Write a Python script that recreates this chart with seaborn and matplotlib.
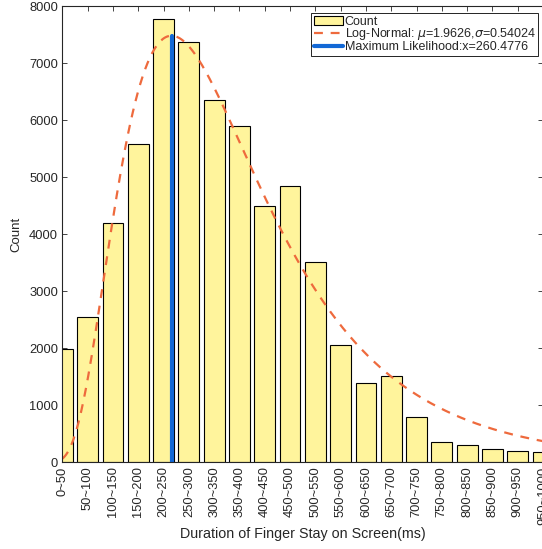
import numpy as np
import matplotlib
matplotlib.use("Agg")
import matplotlib.pyplot as plt
import seaborn as sns

# data
bins = ["0~50", "50~100", "100~150", "150~200", "200~250", "250~300", "300~350",
        "350~400", "400~450", "450~500", "500~550", "550~600", "600~650", "650~700",
        "700~750", "750~800", "800~850", "850~900", "900~950", "950~1000"]
counts = [1980, 2540, 4193, 5584, 7772, 7374, 6356, 5905, 4491, 4847,
          3519, 2053, 1397, 1509, 800, 361, 303, 228, 204, 175]

# log-normal fit (bin index units, 1-based) and maximum likelihood
mu = 1.9626
sigma = 0.54024
fit_scale = 62340
ml_value = 260.4776

sns.set_style("ticks")
plt.rcParams["font.family"] = ["Liberation Sans", "DejaVu Sans"]

fig = plt.figure(figsize=(5.42, 5.49), dpi=100)
ax = fig.add_axes([0.115, 0.158, 0.887, 0.8305])

sns.barplot(x=bins, y=counts, color="#FFF49C", saturation=1, edgecolor="black",
            linewidth=0.8, width=0.82, ax=ax)
bar_handle = ax.patches[0]

# fitted curve
xf = np.linspace(1, 20.5, 400)
yf = fit_scale / (xf * sigma * np.sqrt(2 * np.pi)) * np.exp(-(np.log(xf) - mu) ** 2 / (2 * sigma ** 2))
fit_line, = ax.plot(xf - 1, yf, linestyle=(0, (4, 3.5)), color="#EE6A3D", linewidth=1.6)

# maximum likelihood line at the mode of the fit
mode = np.exp(mu - sigma ** 2)
peak = fit_scale / (mode * sigma * np.sqrt(2 * np.pi)) * np.exp(-sigma ** 2 / 2)
ml_line, = ax.plot([mode - 1, mode - 1], [0, peak], color="#1268D6", linewidth=3)

ax.set_xlim(0, 18.97)
ax.set_ylim(0, 8000)
ax.set_yticks(range(0, 8001, 1000))
ax.set_xticks(range(len(bins)))
ax.set_xticklabels(bins, rotation=90, fontsize=9.3, color="#262626")
ax.tick_params(axis="both", direction="in", length=3.5, width=0.6, colors="#262626",
               top=True, right=True, labelsize=9.3, pad=3)
for lab in ax.get_yticklabels():
    lab.set_color("#262626")
for s in ax.spines.values():
    s.set_visible(True)
    s.set_color("#262626")
    s.set_linewidth(0.8)

ax.set_xlabel("Duration of Finger Stay on Screen(ms)", fontsize=10.3, color="#262626", labelpad=2)
ax.set_ylabel("Count", fontsize=9.5, color="#262626", labelpad=5)

leg = ax.legend([bar_handle, fit_line, ml_line],
                ["Count", r"Log-Normal: $\mu$=1.9626,$\sigma$=0.54024",
                 "Maximum Likelihood:x=%.4f" % ml_value],
                loc="upper right", bbox_to_anchor=(0.99, 0.985), fontsize=9,
                frameon=True, fancybox=False, edgecolor="black", framealpha=1,
                handlelength=2.3, handletextpad=0.15, labelspacing=-0.1,
                borderpad=0.2, borderaxespad=0.0)
leg.get_frame().set_linewidth(0.6)

fig.savefig("out.png", dpi=100)
